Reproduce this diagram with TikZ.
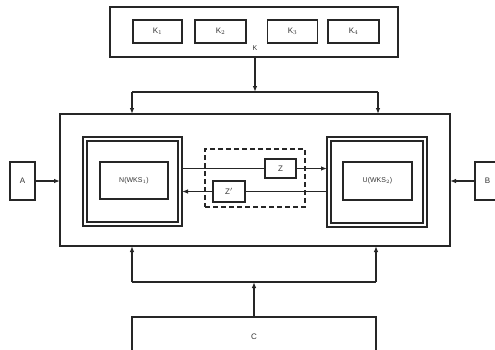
\documentclass[tikz,border=0pt]{standalone}
\usepackage{fontspec}
\setmainfont{Liberation Sans}
\usetikzlibrary{arrows.meta}
\begin{document}
\begin{tikzpicture}[x=1pt,y=-1pt,
  every node/.style={inner sep=0pt,outer sep=0pt},
  box/.style={draw=black!85,line width=1.1pt,rectangle,font=\fontsize{8}{9}\selectfont,text=black!80},
  frame/.style={draw=black!85,line width=1.4pt,rectangle},
  wire/.style={draw=black!85,line width=1.1pt},
  arr/.style={wire,-{Latex[length=6pt,width=4.5pt]}},
  dbox/.style={draw=black!85,line width=1.1pt,dash pattern=on 5pt off 3pt,rectangle}]
\useasboundingbox (0,0) rectangle (495,349);
% top group
\node[box,minimum width=288,minimum height=50] (top) at (254,32) {};
\draw[black!85,line width=2pt] (top.north west) -- (top.north east);
\node[box,minimum width=49,minimum height=23] (k1) at (157.5,31.5) {K$_1$};
\node[box,minimum width=51,minimum height=23] (k2) at (220.5,31.5) {K$_2$};
\node[box,minimum width=50,minimum height=23] (k3) at (292.5,31.5) {K$_3$};
\node[box,minimum width=51,minimum height=23] (k4) at (353.5,31.5) {K$_4$};
\node[font=\fontsize{7}{8}\selectfont,text=black!80] (klab) at (255,48) {K};
% main
\node[box,minimum width=390,minimum height=132] (main) at (255,180) {};
% A and B
\node[box,minimum width=25,minimum height=38] (A) at (22.5,181) {A};
\node[box,minimum width=25,minimum height=38] (B) at (487.5,181) {B};
% left and right framed blocks
\node[frame,minimum width=99,minimum height=89] (L) at (132.5,181.5) {};
\draw[black!85,line width=1.4pt] ([shift={(4,4)}]L.north west) rectangle ([shift={(-4,-4)}]L.south east);
\node[box,minimum width=68,minimum height=37,font=\fontsize{7}{8}\selectfont] (N) at (134,180.5) {N(WKS$_1$)};
\node[frame,minimum width=100,minimum height=90] (R) at (377,182) {};
\draw[black!85,line width=1.4pt] ([shift={(4,4)}]R.north west) rectangle ([shift={(-4,-4)}]R.south east);
\node[box,minimum width=69,minimum height=38,font=\fontsize{7}{8}\selectfont] (U) at (377.5,181) {U(WKS$_2$)};
% dashed group
\node[dbox,minimum width=100,minimum height=58] (D) at (255,178) {};
\node[box,minimum width=31,minimum height=19] (Z) at (280.5,168.5) {Z};
\node[box,minimum width=32,minimum height=21] (Zp) at (229,191.5) {Z$'$};
% C
\node[box,minimum width=244,minimum height=40] (C) at (254,337) {C};
% connectors top
\coordinate (jt) at (255,92);
\coordinate (jtl) at (132,92);
\coordinate (jtr) at (378,92);
\draw[arr] (top.south -| jt) -- (jt);
\draw[wire] (jtl) -- (jtr);
\draw[arr] (jtl) -- (jtl |- main.north);
\draw[arr] (jtr) -- (jtr |- main.north);
% connectors bottom
\coordinate (jb) at (254,282);
\coordinate (jbl) at (132,282);
\coordinate (jbr) at (376,282);
\draw[arr] (C.north) -- (jb);
\draw[wire] (jbl) -- (jbr);
\draw[arr] (jbl) -- (jbl |- main.south);
\draw[arr] (jbr) -- (jbr |- main.south);
% A, B
\draw[arr] (A.east) -- (A.east -| main.west);
\draw[arr] (B.west) -- (B.west -| main.east);
% inner links
\draw[wire] (L.east |- Z.west) -- (Z.west);
\draw[arr] (Z.east) -- (Z.east -| R.west);
\draw[wire] (R.west |- Zp.east) -- (Zp.east);
\draw[arr] (Zp.west) -- (Zp.west -| L.east);
\end{tikzpicture}
\end{document}
